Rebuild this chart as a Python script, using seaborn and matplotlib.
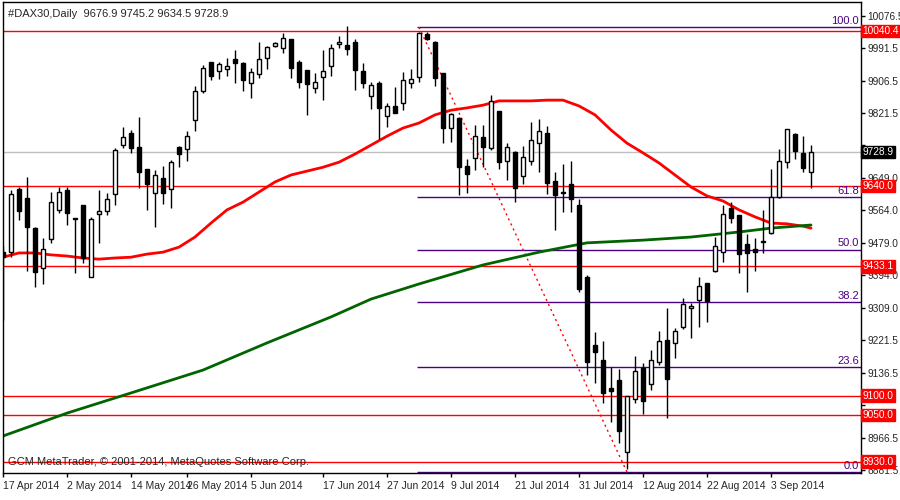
import numpy as np
import pandas as pd
import matplotlib
matplotlib.use("Agg")
import matplotlib.pyplot as plt
import matplotlib.transforms as mtransforms
import seaborn as sns

# ── data ─────────────────────────────────────────────
opens = [9470, 9470, 9633, 9610, 9532, 9429, 9504, 9579, 9630, 9558,
         9592, 9406, 9568, 9576, 9620, 9746, 9777, 9741, 9684, 9622,
         9661, 9633, 9741, 9736, 9811, 9885, 9960, 9937, 9942, 9968,
         9958, 9906, 9929, 9970, 10001, 9996, 10019, 9960, 9940, 9893,
         9922, 9950, 10007, 10004, 10012, 9937, 9873, 9906, 9821, 9847,
         9854, 9906, 9922, 10032, 10012, 9932, 9790, 9816, 9692, 9713,
         9767, 9738, 9834, 9705, 9728, 9666, 9705, 9751, 9777, 9653,
         9625, 9646, 9592, 9406, 9231, 9192, 9120, 9140, 8955, 9091,
         9171, 9130, 9187, 9244, 9236, 9277, 9326, 9347, 9390, 9421,
         9470, 9584, 9566, 9491, 9478, 9496, 9519, 9612, 9702, 9775,
         9726, 9676.9]
highs = [9486, 9630, 9638, 9664, 9535, 9506, 9625, 9638, 9638, 9558,
         9592, 9561, 9630, 9622, 9738, 9793, 9785, 9818, 9684, 9682,
         9692, 9708, 9744, 9782, 9898, 9952, 9960, 9960, 9970, 9991,
         9960, 9945, 10012, 10001, 10012, 10035, 10019, 9965, 9940, 9932,
         9991, 10007, 10027, 10053, 10019, 9958, 9909, 9911, 9854, 9896,
         9934, 9942, 10037, 10037, 10014, 9932, 9829, 9818, 9710, 9798,
         9798, 9875, 9834, 9751, 9731, 9744, 9806, 9813, 9795, 9677,
         9697, 9705, 9607, 9411, 9264, 9241, 9174, 9169, 9099, 9202,
         9184, 9218, 9267, 9326, 9274, 9352, 9339, 9406, 9390, 9509,
         9592, 9599, 9566, 9517, 9506, 9579, 9684, 9736, 9787, 9777,
         9769, 9745.2]
lows = [9295, 9457, 9553, 9421, 9380, 9388, 9494, 9571, 9540, 9416,
        9442, 9406, 9494, 9566, 9592, 9738, 9726, 9635, 9579, 9535,
        9594, 9584, 9689, 9705, 9782, 9880, 9914, 9916, 9924, 9906,
        9885, 9867, 9919, 9942, 9999, 9983, 9919, 9893, 9824, 9880,
        9862, 9924, 9996, 9978, 9888, 9893, 9839, 9762, 9793, 9829,
        9836, 9893, 9909, 10017, 9898, 9751, 9754, 9617, 9622, 9682,
        9689, 9733, 9684, 9656, 9599, 9646, 9695, 9677, 9620, 9527,
        9574, 9574, 9367, 9153, 9133, 9081, 9032, 8978, 8911, 9081,
        9053, 9115, 9179, 9042, 9197, 9272, 9249, 9277, 9290, 9419,
        9445, 9545, 9416, 9367, 9421, 9468, 9517, 9610, 9687, 9710,
        9677, 9634.5]
closes = [9458, 9620, 9576, 9535, 9419, 9478, 9599, 9625, 9571, 9555,
          9455, 9555, 9576, 9607, 9733, 9767, 9738, 9677, 9646, 9669,
          9622, 9702, 9723, 9769, 9885, 9945, 9924, 9955, 9950, 9958,
          9914, 9934, 9968, 9999, 10009, 10022, 9945, 9909, 9903, 9909,
          9937, 9996, 10012, 9994, 9940, 9906, 9901, 9842, 9847, 9829,
          9914, 9916, 10035, 10019, 9919, 9790, 9826, 9689, 9671, 9769,
          9741, 9860, 9702, 9741, 9635, 9715, 9759, 9782, 9648, 9617,
          9622, 9607, 9375, 9187, 9213, 9107, 9112, 9009, 9099, 9164,
          9086, 9192, 9241, 9143, 9267, 9336, 9331, 9383, 9344, 9486,
          9568, 9558, 9465, 9468, 9470, 9497, 9612, 9705, 9787, 9731,
          9687, 9728.9]

date_ticks = [0, 8, 16, 23, 31, 40, 48, 56, 64, 72, 80, 88, 96]
date_labels = ["17 Apr 2014", "2 May 2014", "14 May 2014", "26 May 2014",
               "5 Jun 2014", "17 Jun 2014", "27 Jun 2014", "9 Jul 2014",
               "21 Jul 2014", "31 Jul 2014", "12 Aug 2014", "22 Aug 2014",
               "3 Sep 2014"]

ma50_idx = list(range(0, 71, 2)) + list(range(72, 101, 2)) + [101]
ma50_val = [9457, 9468, 9468, 9463, 9460, 9455, 9452, 9455, 9457, 9465,
            9470, 9483, 9509, 9545, 9579, 9599, 9625, 9651, 9669, 9679,
            9689, 9702, 9723, 9746, 9769, 9790, 9803, 9824, 9836, 9842,
            9849, 9860, 9860, 9860, 9862, 9862,
            9847, 9824, 9785, 9751, 9726, 9700, 9669, 9638, 9615, 9602,
            9579, 9561, 9545, 9543, 9537, 9532]
ma200_idx = [0, 8, 16, 25, 33, 41, 46, 52, 60, 67, 73, 80, 86, 92, 96, 101]
ma200_val = [8996, 9055, 9107, 9166, 9236, 9303, 9349, 9388, 9437, 9470,
             9494, 9501, 9509, 9522, 9532, 9540]

level_prices = [10040.4, 9640.0, 9433.1, 9100.0, 9050.0, 8930.0]
fib_high, fib_low = 10050.0, 8903.0
fib_high_idx, fib_low_idx = 52, 78
fib_levels = [0.0, 23.6, 38.2, 50.0, 61.8, 100.0]

# labels hidden behind the price boxes are left blank
ytick_labels = ["8881.5", "8966.5", "", "9136.5", "9221.5", "9309.0",
                "9394.0", "9479.0", "9564.0", "9649.0", "", "9821.5",
                "9906.5", "9991.5", "10076.5"]
ytick_pos = np.linspace(8908, 10080, 15)

# ── figure ───────────────────────────────────────────
sns.set_style("white")
plt.rcParams["font.family"] = ["Liberation Sans", "DejaVu Sans"]
FS = 8
FS_R = 7.3
fig = plt.figure(figsize=(9, 5), dpi=100)
ax = fig.add_axes([3 / 900, 27 / 500, 858 / 900, 471 / 500])

df = pd.DataFrame({"o": opens, "h": highs, "l": lows, "c": closes})
df["x"] = np.arange(len(df))
bull = df["c"] >= df["o"]

# horizontal levels
for p in level_prices:
    ax.axhline(p, color="red", lw=1, zorder=1)
ax.axhline(closes[-1], color="#c0c0c0", lw=1, zorder=1)

# fibonacci
fib_purple = "#4b0082"
for lv in fib_levels:
    p = fib_low + (fib_high - fib_low) * lv / 100
    ax.hlines(p, fib_high_idx - 0.3, 107.25, color=fib_purple, lw=1, zorder=1.5)
    ax.text(107.0, p + 3, f"{lv:.1f}", color=fib_purple, fontsize=FS,
            ha="right", va="bottom")
ax.plot([fib_high_idx, fib_low_idx], [fib_high, fib_low], color="red",
        lw=1, ls=(0, (1.5, 2.5)), zorder=1.6)

# moving averages
sns.lineplot(x=ma50_idx, y=ma50_val, color="red", lw=2, ax=ax, zorder=2)
sns.lineplot(x=ma200_idx, y=ma200_val, color="#006400", lw=2, ax=ax, zorder=2)

# candles
ax.vlines(df["x"], df["l"], df["h"], color="black", lw=1, zorder=3)
body_lo = np.minimum(df["o"], df["c"])
body_h = np.maximum(np.abs(df["c"] - df["o"]), 1.5)
ax.bar(df["x"], body_h, bottom=body_lo, width=0.6,
       color=np.where(bull, "white", "black"), edgecolor="black",
       linewidth=1, zorder=4)

ax.set_xlim(0, 107.25)
ax.set_ylim(8900.6, 10115)
ax.set_xticks(date_ticks)
ax.set_xticklabels(date_labels, fontsize=7.5, ha="left")
ax.yaxis.tick_right()
ax.set_yticks(ytick_pos)
ax.set_yticklabels(ytick_labels, fontsize=FS_R)
ax.tick_params(axis="both", length=3, width=1, color="black", pad=1.5,
               direction="out", bottom=True, right=True)
ax.tick_params(axis="x", pad=3)
for s in ax.spines.values():
    s.set_color("black")
    s.set_linewidth(1)
ax.set_xlabel("")
ax.set_ylabel("")

# right-edge price boxes
trans = mtransforms.blended_transform_factory(ax.transAxes, ax.transData)
for p in level_prices:
    ax.text(1.002, p, f"{p:.1f}", transform=trans, fontsize=FS_R, color="white",
            va="center", ha="left", clip_on=False, zorder=10,
            bbox=dict(boxstyle="square,pad=0.12", fc="red", ec="red"))
ax.text(1.002, closes[-1], f"{closes[-1]:.1f}", transform=trans, fontsize=FS_R,
        color="white", va="center", ha="left", clip_on=False, zorder=10,
        bbox=dict(boxstyle="square,pad=0.12", fc="black", ec="black"))

ax.text(0.006, 0.985, f"#DAX30,Daily  {opens[-1]} {highs[-1]} {lows[-1]} {closes[-1]}",
        transform=ax.transAxes, fontsize=FS, va="top", ha="left")
ax.text(0.006, 0.012, "GCM MetaTrader, © 2001-2014, MetaQuotes Software Corp.",
        transform=ax.transAxes, fontsize=FS, va="bottom", ha="left")

fig.savefig("out.png", dpi=100, facecolor="white")
